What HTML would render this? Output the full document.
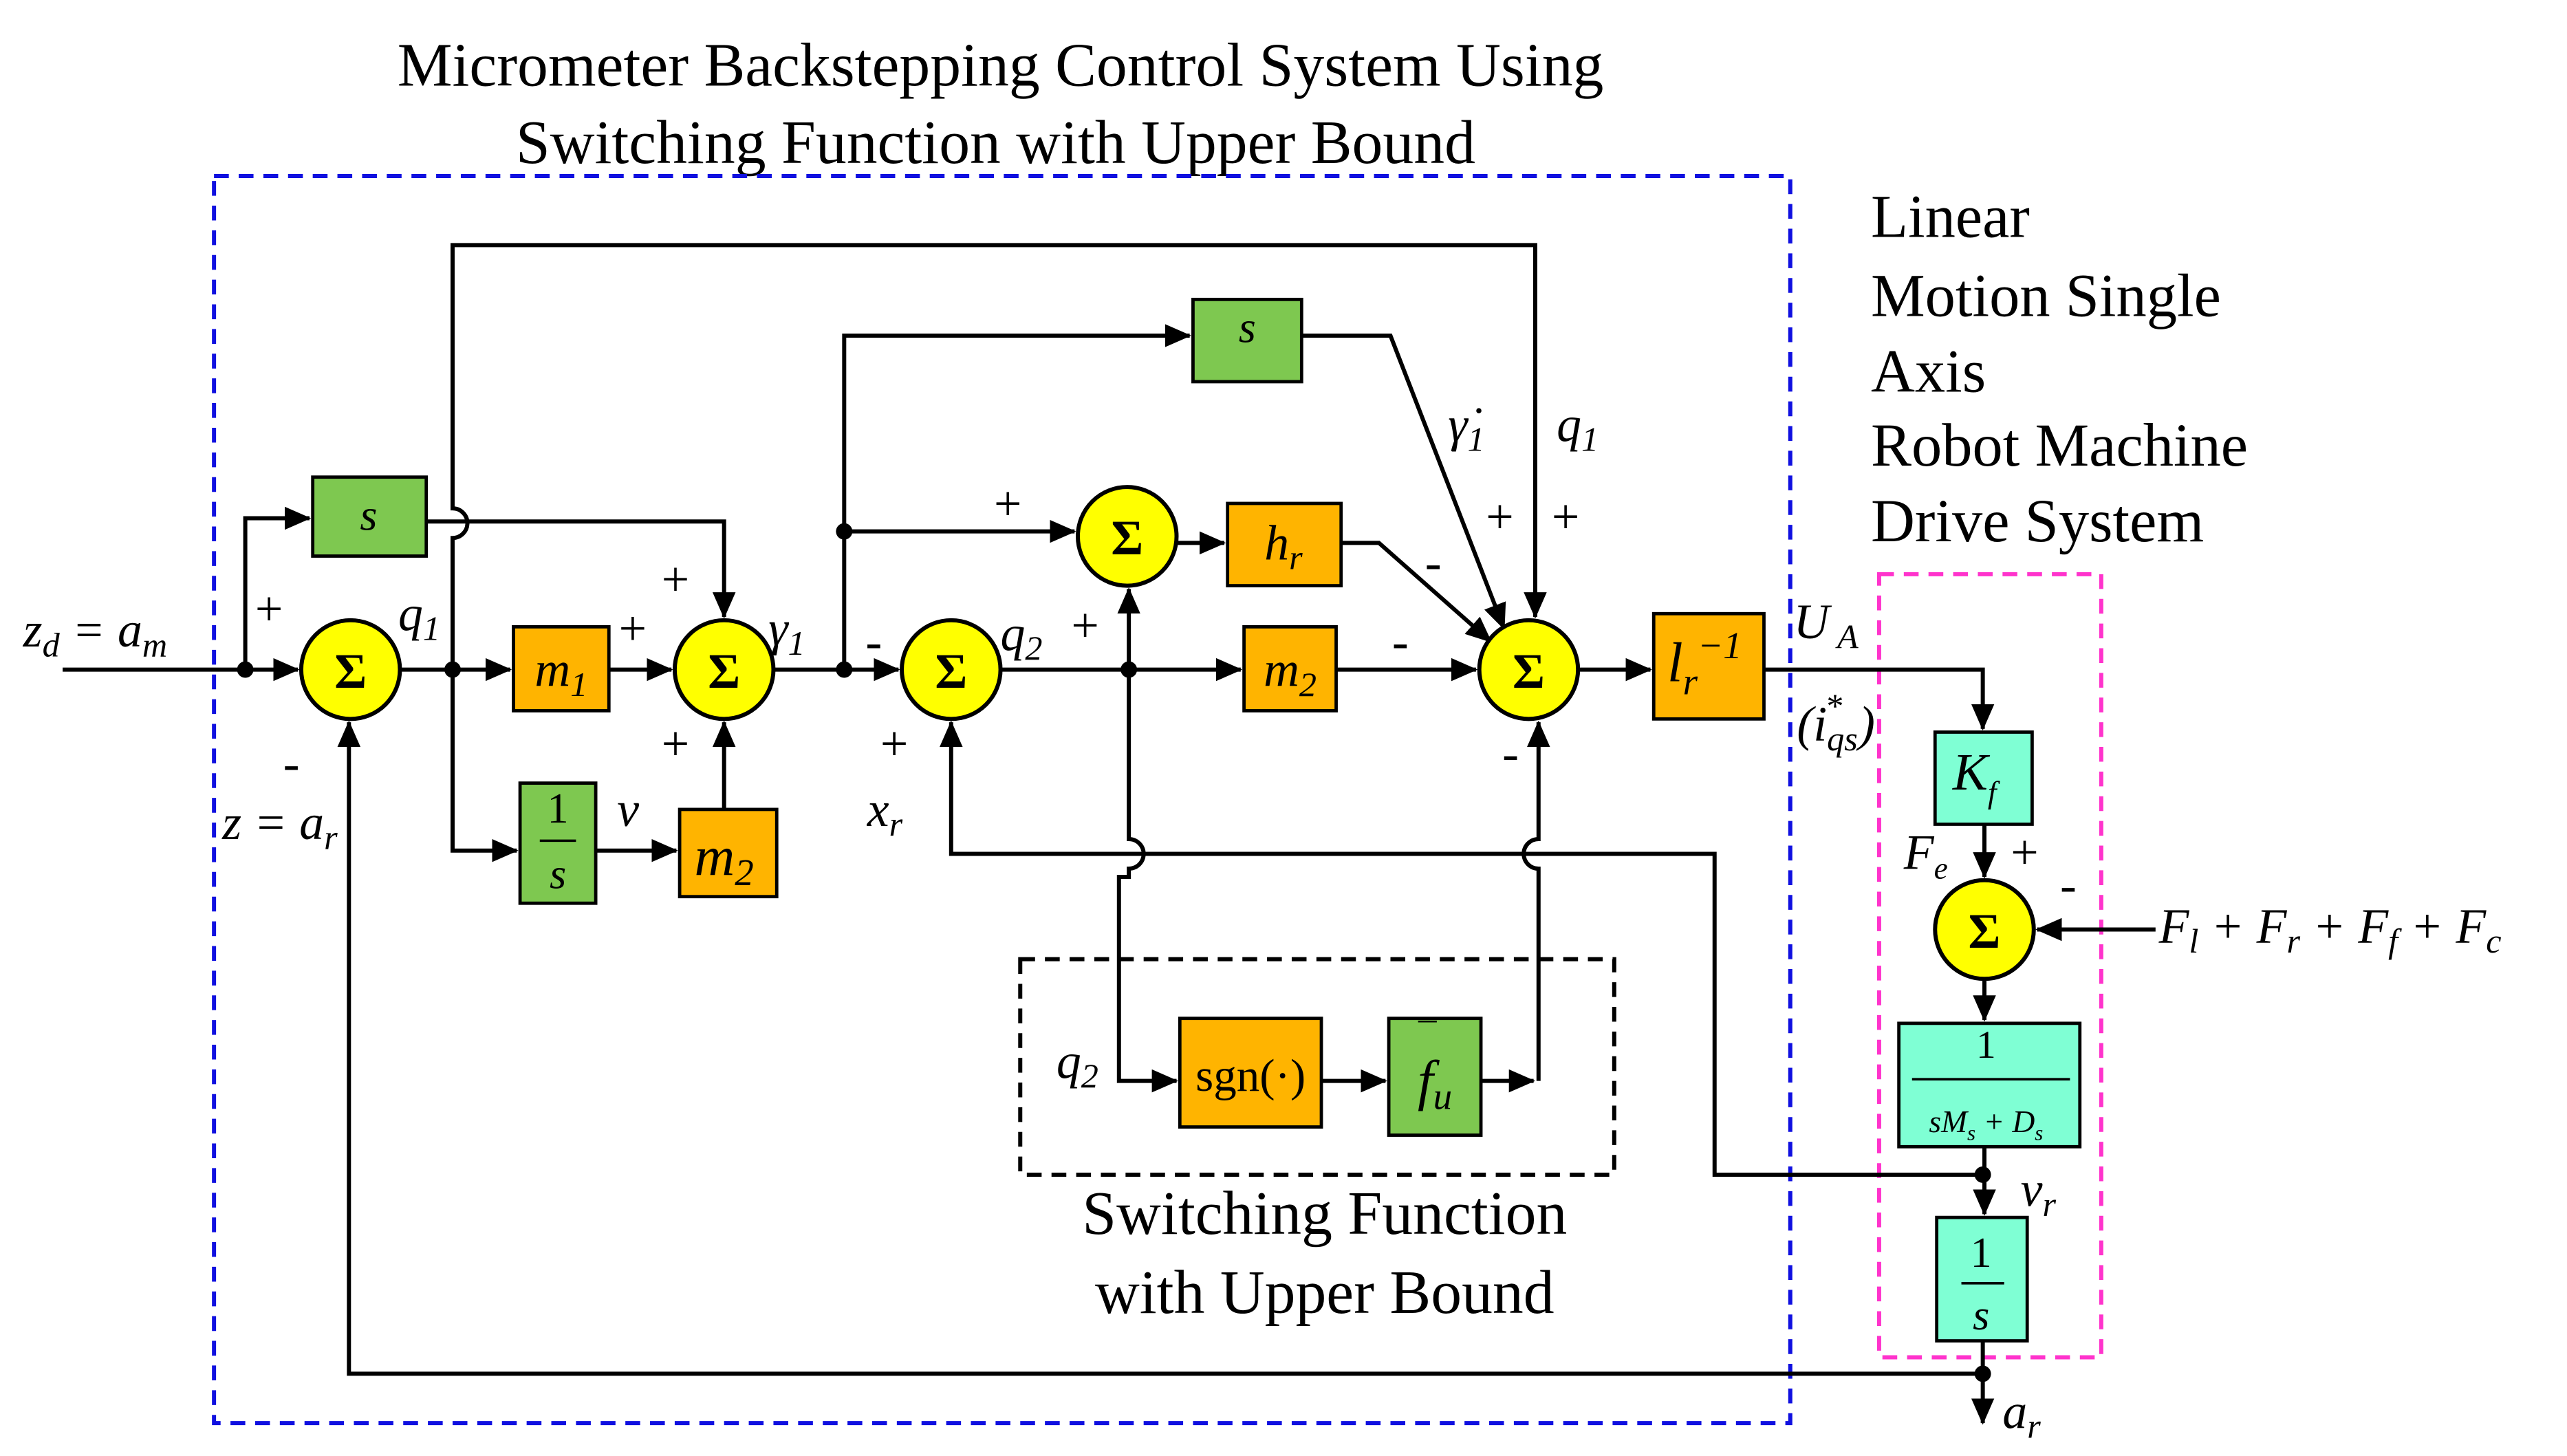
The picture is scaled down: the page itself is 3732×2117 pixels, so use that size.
<!DOCTYPE html>
<html><head><meta charset="utf-8"><style>
html,body{margin:0;padding:0;background:#fff;}
svg{display:block;}
text{font-family:"Liberation Serif",serif;}
.i{font-style:italic;}
</style></head><body>
<svg width="3732" height="2117" viewBox="0 0 1560 885" xmlns="http://www.w3.org/2000/svg">
<defs>
<marker id="b" markerWidth="16" markerHeight="14" refX="15" refY="7" orient="auto" markerUnits="userSpaceOnUse"><path d="M0,0 L16,7 L0,14 z" fill="#000"/></marker>
</defs>
<rect width="1560" height="885" fill="#fff"/>
<text x="608" y="52" font-size="37.5" text-anchor="middle">Micrometer Backstepping Control System Using</text>
<text x="605" y="99" font-size="37.5" text-anchor="middle">Switching Function with Upper Bound</text>
<g font-size="37"><text x="1137" y="144">Linear</text><text x="1137" y="192">Motion Single</text><text x="1137" y="238">Axis</text><text x="1137" y="283">Robot Machine</text><text x="1137" y="329">Drive System</text></g>
<rect x="130" y="107" width="958" height="758" fill="none" stroke="#1010e0" stroke-width="2.5" stroke-dasharray="9,6"/>
<rect x="1142" y="349" width="135" height="476" fill="none" stroke="#ff33cc" stroke-width="2.5" stroke-dasharray="9,6"/>
<rect x="620" y="583" width="361" height="131" fill="none" stroke="#000" stroke-width="2.5" stroke-dasharray="9,6"/>
<g stroke="#000" stroke-width="2.5" fill="none">
<path d="M38,407 H181" marker-end="url(#b)"/>
<path d="M149,407 V315 H188" marker-end="url(#b)"/>
<path d="M259,317 H440 V375" marker-end="url(#b)"/>
<path d="M275,407 V327 A9,9 0 0 0 275,309 V149 H933 V375" marker-end="url(#b)"/>
<path d="M243,407 H310" marker-end="url(#b)"/>
<path d="M275,407 V517 H314" marker-end="url(#b)"/>
<path d="M370,407 H408" marker-end="url(#b)"/>
<path d="M362,517 H411" marker-end="url(#b)"/>
<path d="M440,492 V439" marker-end="url(#b)"/>
<path d="M470,407 H546" marker-end="url(#b)"/>
<path d="M513,407 V204 H723" marker-end="url(#b)"/>
<path d="M513,323 H653" marker-end="url(#b)"/>
<path d="M608,407 H754" marker-end="url(#b)"/>
<path d="M686,407 V358" marker-end="url(#b)"/>
<path d="M686,407 V510 A9,9 0 0 1 686,528 V533 H680 V657 H715" marker-end="url(#b)"/>
<path d="M715,330 H744" marker-end="url(#b)"/>
<path d="M815,330 H838 L906,390" marker-end="url(#b)"/>
<path d="M791,204 H845 L914,382" marker-end="url(#b)"/>
<path d="M812,407 H897" marker-end="url(#b)"/>
<path d="M959,407 H1003" marker-end="url(#b)"/>
<path d="M803,657 H842" marker-end="url(#b)"/>
<path d="M900,657 H932" marker-end="url(#b)"/>
<path d="M935,657 V528 A9,9 0 0 1 935,510 V439" marker-end="url(#b)"/>
<path d="M1072,407 H1205 V443" marker-end="url(#b)"/>
<path d="M1206,501 V533" marker-end="url(#b)"/>
<path d="M1310,565 H1238" marker-end="url(#b)"/>
<path d="M1206,595 V620" marker-end="url(#b)"/>
<path d="M1206,697 V738" marker-end="url(#b)"/>
<path d="M1205,714 H1042 V519 H578 V439" marker-end="url(#b)"/>
<path d="M1205,815 V865" marker-end="url(#b)"/>
<path d="M1205,835 H212 V439" marker-end="url(#b)"/>
</g>
<g fill="#000"><circle cx="149" cy="407" r="5"/><circle cx="275" cy="407" r="5"/><circle cx="513" cy="407" r="5"/><circle cx="513" cy="323" r="5"/><circle cx="686" cy="407" r="5"/><circle cx="1205" cy="714" r="5"/><circle cx="1205" cy="835" r="5"/></g>
<g fill="#ffff00" stroke="#000" stroke-width="2.5">
<circle cx="213" cy="407" r="30"/><circle cx="440" cy="407" r="30"/><circle cx="578" cy="407" r="30"/><circle cx="685" cy="326" r="30"/><circle cx="929" cy="407" r="30"/><circle cx="1206" cy="565" r="30"/>
</g>
<g font-size="30" font-weight="bold" text-anchor="middle"><text x="213" y="418">Σ</text><text x="440" y="418">Σ</text><text x="578" y="418">Σ</text><text x="685" y="337">Σ</text><text x="929" y="418">Σ</text><text x="1206" y="576">Σ</text></g>
<g stroke="#000" stroke-width="2">
<rect x="190" y="290" width="69" height="48" fill="#7ec850"/>
<rect x="312" y="381" width="58" height="51" fill="#ffb400"/>
<rect x="316" y="476" width="46" height="73" fill="#7ec850"/>
<rect x="413" y="492" width="59" height="53" fill="#ffb400"/>
<rect x="725" y="182" width="66" height="50" fill="#7ec850"/>
<rect x="746" y="306" width="69" height="50" fill="#ffb400"/>
<rect x="756" y="381" width="56" height="51" fill="#ffb400"/>
<rect x="1005" y="373" width="67" height="64" fill="#ffb400"/>
<rect x="717" y="619" width="86" height="66" fill="#ffb400"/>
<rect x="844" y="619" width="56" height="71" fill="#7ec850"/>
<rect x="1176" y="445" width="59" height="56" fill="#7fffd4"/>
<rect x="1154" y="622" width="110" height="75" fill="#7fffd4"/>
<rect x="1177" y="740" width="55" height="75" fill="#7fffd4"/>
</g>
<g class="i" font-size="30" text-anchor="middle">
<text x="224" y="322" font-size="27">s</text>
<text x="341" y="417">m<tspan font-size="21" dy="6">1</tspan></text>
<text x="440" y="532" font-size="34">m<tspan font-size="23" dy="6">2</tspan></text>
<text x="758" y="208" font-size="27">s</text>
<text x="780" y="340">h<tspan font-size="21" dy="6">r</tspan></text>
<text x="784" y="417">m<tspan font-size="21" dy="6">2</tspan></text>
<text x="1036" y="414" font-size="34">l<tspan font-size="23" dy="8">r</tspan><tspan font-size="23" dy="-22">−1</tspan></text>
<text x="872" y="668" font-size="34">f<tspan font-size="23" dy="6">u</tspan></text>
<text x="1200" y="480" font-size="32">K<tspan font-size="19" dy="8">f</tspan></text>
<text x="1207" y="688" font-size="19">sM<tspan font-size="13" dy="5">s</tspan><tspan dy="-5"> + D</tspan><tspan font-size="13" dy="5">s</tspan></text>
</g>
<text x="862" y="637" font-size="22">¯</text>
<g font-size="26" text-anchor="middle"><text x="339" y="500">1</text><text x="339" y="540" class="i">s</text><text x="1207" y="643" font-size="24">1</text><text x="1204" y="770">1</text><text x="1204" y="808" class="i">s</text></g>
<g stroke="#000" stroke-width="1.5"><line x1="328" y1="511" x2="350" y2="511"/><line x1="1162" y1="656" x2="1258" y2="656"/><line x1="1192" y1="780" x2="1218" y2="780"/></g>
<text x="760" y="663" font-size="28" text-anchor="middle">sgn(·)</text>
<g font-size="30">
<text x="155" y="380">+</text><text x="172" y="474">-</text><text x="376" y="392">+</text><text x="402" y="362">+</text><text x="402" y="462">+</text>
<text x="526" y="400">-</text><text x="535" y="462">+</text><text x="604" y="316">+</text><text x="651" y="390">+</text>
<text x="866" y="352">-</text><text x="846" y="400">-</text><text x="903" y="324">+</text><text x="943" y="324">+</text><text x="913" y="468">-</text>
<text x="1222" y="528">+</text><text x="1252" y="548">-</text>
</g>
<g class="i" font-size="30">
<text x="14" y="393">z<tspan font-size="21" dy="6">d</tspan><tspan dy="-6"> = a</tspan><tspan font-size="21" dy="6">m</tspan></text>
<text x="242" y="383">q<tspan font-size="21" dy="6">1</tspan></text>
<text x="135" y="510">z = a<tspan font-size="21" dy="6">r</tspan></text>
<text x="375" y="502">ν</text>
<text x="467" y="392">γ<tspan font-size="21" dy="6">1</tspan></text>
<text x="608" y="395">q<tspan font-size="21" dy="6">2</tspan></text>
<text x="527" y="502">x<tspan font-size="21" dy="6">r</tspan></text>
<text x="880" y="268">γ̇<tspan font-size="21" dy="6">1</tspan></text>
<text x="946" y="268">q<tspan font-size="21" dy="6">1</tspan></text>
<text x="1090" y="388">U<tspan font-size="21" dy="6"> A</tspan></text>
<text x="1092" y="450">(i<tspan font-size="21" dy="6">qs</tspan><tspan font-size="21" dy="-20" dx="-20">*</tspan><tspan dy="14" dx="10">)</tspan></text>
<text x="1157" y="528">F<tspan font-size="19" dy="6">e</tspan></text>
<text x="1312" y="573">F<tspan font-size="21" dy="6">l</tspan><tspan dy="-6"> + F</tspan><tspan font-size="21" dy="6">r</tspan><tspan dy="-6"> + F</tspan><tspan font-size="21" dy="6">f</tspan><tspan dy="-6"> + F</tspan><tspan font-size="21" dy="6">c</tspan></text>
<text x="1228" y="733">v<tspan font-size="21" dy="6">r</tspan></text>
<text x="1217" y="868">a<tspan font-size="21" dy="6">r</tspan></text>
<text x="642" y="655">q<tspan font-size="21" dy="6">2</tspan></text>
</g>
<text x="805" y="750" font-size="37.5" text-anchor="middle">Switching Function</text>
<text x="805" y="798" font-size="37.5" text-anchor="middle">with Upper Bound</text>
</svg>
</body></html>
